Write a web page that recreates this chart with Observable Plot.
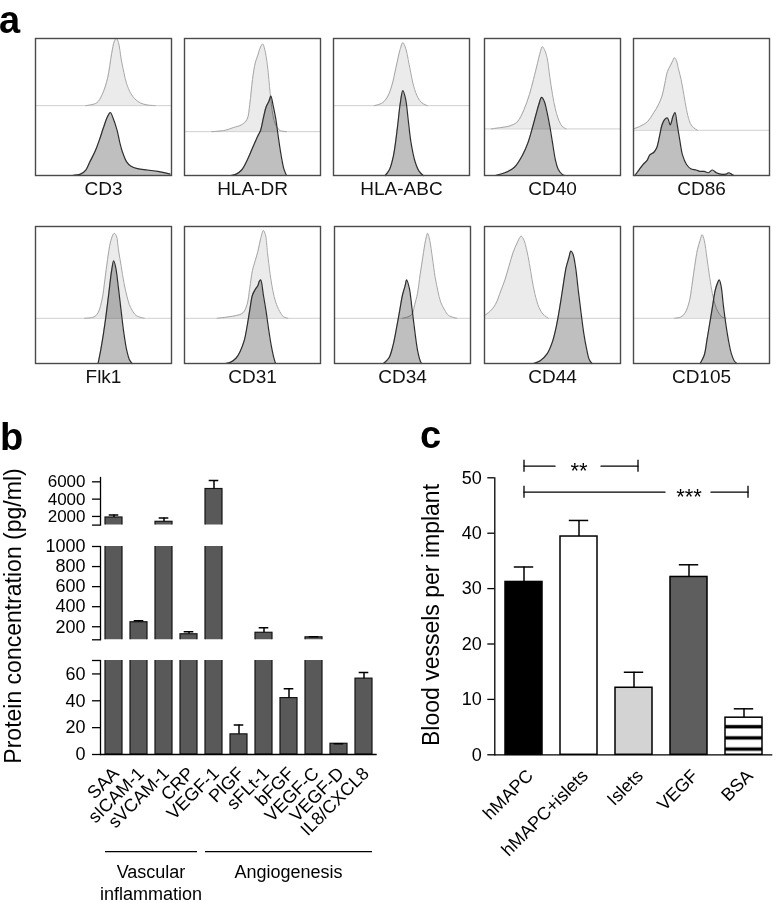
<!DOCTYPE html>
<html><head><meta charset="utf-8">
<script src="https://cdn.jsdelivr.net/npm/d3@7"></script>
<script src="https://cdn.jsdelivr.net/npm/@observablehq/plot@0.6"></script>
<style>
body{margin:0;background:#fff}
#fig{position:relative;width:776px;height:903px;overflow:hidden;background:#fff;font-family:"Liberation Sans",Arial,Helvetica,sans-serif;color:#000}
#fig svg{position:absolute}
.letter{position:absolute;font-weight:bold;font-size:38px;line-height:1}
.ytitle{position:absolute;font-size:23px;line-height:1;white-space:nowrap;transform:translate(-50%,-50%) rotate(-90deg)}
</style></head>
<body><div id="fig"></div>
<script>
// ---------- Panel a: flow cytometry histograms (x: % of box width, y: % of box height above own baseline)
const markers = ["CD3","HLA-DR","HLA-ABC","CD40","CD86","Flk1","CD31","CD34","CD44","CD105"];
const upperOffsets = [51, 32, 51, 34, 33, 33, 33, 33, 33, 33];

const cd3Upper = [[37,0],[45,2],[49,8],[53,20],[56,38],[58,47],[59.5,49],[61,46],[63,34],[65,24],[67,16],[70,9],[73,5],[77,2],[82,0.5],[88,0]];
const cd3Lower = [[27,0],[33,1],[37,4],[40,10],[44,18],[47,26],[50,35],[53,43],[55,46],[57,42],[60,33],[62,24],[64,17],[67,10],[70,7],[75,5],[82,4],[90,3],[99,1]];
const hladrUpper = [[20,0],[30,1],[36,3],[42,5],[46,9],[48,20],[50,38],[52,50],[54,56],[56,62],[57.5,64],[59,60],[61,48],[63,28],[65,12],[67,5],[70,1],[75,0]];
const hladrLower = [[34,0],[38,1],[42,4],[46,11],[50,20],[54,29],[56,33],[58,42],[60,50],[62,54],[63.5,58],[65,52],[67,42],[69,28],[71,15],[73,5],[75,0]];
const hlaabcUpper = [[30,0],[36,2],[40,7],[43,15],[46,28],[49,41],[51,46],[53,42],[56,28],[59,14],[62,6],[65,2],[69,0]];
const hlaabcLower = [[38,0],[41,4],[44,14],[47,35],[49,52],[51,62],[53,56],[55,40],[57,24],[60,10],[63,3],[66,0]];
const cd40Upper = [[5,0],[12,1],[18,2],[24,5],[29,14],[33,25],[36,36],[39,48],[41,56],[42.5,60],[44,58],[46,52],[48,38],[50,25],[52,15],[54,8],[57,2],[60,0]];
const cd40Lower = [[8,0],[15,2],[22,6],[28,15],[32,24],[35,34],[38,45],[40,52],[42,57],[44,54],[46,46],[48,36],[50,24],[52,12],[54,5],[57,1],[59,0]];
const cd86Upper = [[0,1],[5,3],[10,6],[15,13],[18,18],[21,25],[23,34],[25,43],[27,47],[29,51],[30,53],[31.5,51],[33,45],[35,37],[37,26],[39,15],[41,7],[43,3],[47,0]];
const cd86Lower = [[1,0],[4,4],[7,8],[10,11],[12,15],[15,17],[17,20],[19,28],[21,37],[23,41],[25,42],[27,37],[29,43],[30.5,46],[32,38],[34,26],[36,15],[39,8],[42,5],[46,4],[49,3],[52,3],[55,2],[58,4],[61,2],[64,1],[68,1],[70,2],[72,1],[74,0]];
const flk1Upper = [[36,0],[43,1],[46,4],[49,14],[51,28],[53,43],[55,55],[57,61],[58,62],[59.5,60],[61,50],[63,38],[65,26],[67,17],[69,10],[71,6],[74,2],[80,0]];
const flk1Lower = [[46,0],[48,10],[50,22],[52,36],[54,52],[56,68],[57.5,75],[59,70],[61,55],[63,38],[65,22],[67,10],[69,3],[71,0]];
const cd31Upper = [[24,0],[32,1],[38,2],[43,4],[46,10],[48,22],[50,35],[52,42],[54,49],[56,58],[58,64],[59.5,61],[61,48],[63,32],[65,20],[67,12],[70,5],[73,1],[76,0]];
const cd31Lower = [[30,0],[34,1],[38,4],[41,9],[44,17],[46,27],[48,39],[50,50],[52,54],[54,57],[55,60],[56,61],[58,50],[60,38],[62,24],[64,12],[66,3],[67,0]];
const cd34Upper = [[50,0],[54,1],[57,3],[59,10],[61,18],[63,32],[65,45],[67,57],[68.5,62],[70,57],[72,44],[74,30],[76,20],[78,12],[81,6],[84,2],[90,0]];
const cd34Lower = [[36,0],[40,4],[43,13],[46,28],[48,39],[50,50],[52,57],[53,61],[55,55],[57,40],[59,24],[61,10],[63,2],[64,0]];
const cd44Upper = [[0,2],[4,5],[8,10],[12,20],[15,28],[18,38],[21,48],[24,55],[26,59],[27,60],[29,57],[31,50],[33,40],[35,28],[37,18],[40,8],[43,3],[47,0]];
const cd44Lower = [[36,0],[41,2],[46,7],[50,16],[53,28],[56,45],[58,58],[60,70],[62,77],[63.5,82],[65,80],[67,70],[69,53],[71,37],[73,22],[75,11],[77,3],[79,0]];
const cd105Upper = [[30,0],[35,1],[38,4],[41,12],[43,24],[45,38],[47,50],[49,57],[50.5,61],[52,57],[54,44],[56,30],[58,18],[60,10],[62,5],[65,1],[68,0]];
const cd105Lower = [[49,0],[52,6],[54,17],[56,29],[58,41],[60,53],[61.5,58],[63,61],[64.5,56],[66,43],[68,28],[70,16],[72,7],[74,2],[76,0]];

const upperCurves = [cd3Upper, hladrUpper, hlaabcUpper, cd40Upper, cd86Upper, flk1Upper, cd31Upper, cd34Upper, cd44Upper, cd105Upper];
const lowerCurves = [cd3Lower, hladrLower, hlaabcLower, cd40Lower, cd86Lower, flk1Lower, cd31Lower, cd34Lower, cd44Lower, cd105Lower];

// ---------- Panel b: protein concentration (pg/ml)
const bNames = ["SAA","sICAM-1","sVCAM-1","CRP","VEGF-1","PlGF","sFLt-1","bFGF","VEGF-C","VEGF-D","IL8/CXCL8"];
const bMeans = [1880, 245, 1380, 125, 5170, 15, 140, 42, 95, 8, 56.5];
const bErrors = [280, 15, 430, 25, 990, 7, 50, 7, 5, 0, 4.5];
const bGroupNames = ["Vascular\ninflammation", "Angiogenesis"];
const bGroupFirst = ["SAA", "VEGF-1"];
const bGroupLast = ["CRP", "IL8/CXCL8"];
const bTopTicks = [2000, 4000, 6000];
const bMidTicks = [200, 400, 600, 800, 1000];
const bLowTicks = [0, 20, 40, 60];
const bBreaks = [70, 1000, 6500];

// ---------- Panel c: blood vessels per implant
const cNames = ["hMAPC","hMAPC+islets","Islets","VEGF","BSA"];
const cMeans = [31.2, 39.4, 12.1, 32.1, 6.7];
const cErrors = [2.7, 2.9, 2.8, 2.2, 1.6];
const cTicks = [0, 10, 20, 30, 40, 50];
const sigFrom = ["hMAPC", "hMAPC"];
const sigMid = ["hMAPC+islets", "VEGF"];
const sigTo = ["Islets", "BSA"];
const sigLabels = ["**", "***"];
const sigLevels = [52.1, 47.4];

// ================= drawing =================
const FONT = '"Liberation Sans", Arial, Helvetica, sans-serif';
const fig = document.getElementById("fig");
function place(el, left, top) { el.style.left = left + "px"; el.style.top = top + "px"; fig.appendChild(el); return el; }

// Panel a
const boxLefts = [[35, 184, 333, 484, 633], [35, 184, 334, 484, 633]];
const boxTops = [38, 226];
markers.forEach((name, i) => {
  const row = Math.floor(i / 5), col = i % 5;
  const base = upperOffsets[i];
  const up = upperCurves[i], lo = lowerCurves[i];
  const svg = Plot.plot({
    width: 138, height: 168, marginLeft: 1, marginRight: 1, marginTop: 1, marginBottom: 30,
    x: {domain: [0, 100], axis: null},
    y: {domain: [0, 100], axis: null},
    style: {background: "transparent", overflow: "visible", fontFamily: FONT},
    marks: [
      Plot.areaY(up, {x: d => d[0], y1: base, y2: d => base + d[1], fill: "#ebebeb", curve: "catmull-rom"}),
      Plot.ruleY([base], {stroke: "#cfcfcf", strokeWidth: 1}),
      Plot.lineY(up, {x: d => d[0], y: d => base + d[1], stroke: "#a6a6a6", strokeWidth: 1, curve: "catmull-rom"}),
      Plot.areaY(lo, {x: d => d[0], y1: 0, y2: d => d[1], fill: "#bfbfbf", mixBlendMode: "multiply", curve: "catmull-rom"}),
      Plot.lineY(lo, {x: d => d[0], y: d => d[1], stroke: "#2e2e2e", strokeWidth: 1.2, curve: "catmull-rom"}),
      Plot.frame({stroke: "#4a4a4a", strokeWidth: 1.4}),
      Plot.text([name], {frameAnchor: "bottom", dy: 19, fontSize: 19, fill: "#111"})
    ]
  });
  place(svg, boxLefts[row][col] - 1, boxTops[row] - 1);
});

// Panel b
const bData = bNames.map((name, i) => ({name, mean: bMeans[i], err: bErrors[i]}));
function bSegment(domain, ticks, mt, frameH, mb, bottom, tickFont) {
  const tickList = bottom ? ticks.concat([domain[1]]) : [domain[0]].concat(ticks);
  return Plot.plot({
    width: 380, height: mt + frameH + mb, marginLeft: 100, marginRight: 3.3, marginTop: mt, marginBottom: mb,
    x: {domain: bNames, paddingInner: 0.31, paddingOuter: 0.107, axis: null},
    y: {domain, axis: null, label: null},
    style: {background: "transparent", overflow: "visible", fontFamily: FONT},
    marks: [
      Plot.barY(bData, {x: "name", y: "mean", fill: "#595959", stroke: "#151515", strokeWidth: 1.2, clip: true}),
      Plot.ruleX(bData, {x: "name", y1: "mean", y2: d => d.mean + d.err, stroke: "#000", strokeWidth: 1.5, clip: true}),
      Plot.tickY(bData, {x: "name", y: d => d.mean + d.err, insetLeft: 3.7, insetRight: 3.7, stroke: "#000", strokeWidth: 1.5, clip: true}),
      Plot.axisY({ticks: tickList, tickFormat: d => ticks.includes(d) ? String(d) : "", tickSize: 8, tickPadding: 7, fontSize: tickFont, label: null, strokeWidth: 1.3}),
      Plot.frame({anchor: "left", stroke: "#000", strokeWidth: 1.3}),
      bottom ? Plot.ruleY([0], {stroke: "#000", strokeWidth: 1.3}) : null,
      bottom ? Plot.axisX({tickRotate: -45, tickSize: 0, tickPadding: 16, dx: 2, fontSize: 18, label: null}) : null
    ]
  });
}
const bTop = place(bSegment([bBreaks[1], bBreaks[2]], bTopTicks, 10, 47.6, 4, false, 17), 0, 466.7);
const bMid = place(bSegment([bBreaks[0], bBreaks[1]], bMidTicks, 10, 93.3, 4, false, 18), 0, 535.7);
const bLow = place(bSegment([0, bBreaks[0]], bLowTicks, 10, 94, 149, true, 18), 0, 650);

// group annotation under panel b, positioned through the band scale
{
  const xs = bLow.scale("x");
  const g = d3.select(bLow).append("g").attr("font-size", 18).attr("text-anchor", "middle").attr("font-family", FONT);
  bGroupNames.forEach((label, i) => {
    const x1 = xs.apply(bGroupFirst[i]);
    const x2 = xs.apply(bGroupLast[i]) + xs.bandwidth;
    g.append("line").attr("x1", x1).attr("x2", x2).attr("y1", 201.7).attr("y2", 201.7).attr("stroke", "#000").attr("stroke-width", 1.2);
    const t = g.append("text").attr("y", 228);
    label.split("\n").forEach((s, j) => t.append("tspan").attr("x", (x1 + x2) / 2).attr("dy", j ? "1.2em" : 0).text(s));
  });
}

// Panel c
const cData = cNames.map((name, i) => ({name, mean: cMeans[i], err: cErrors[i]}));
const sigData = sigLabels.map((label, i) => ({label, from: sigFrom[i], mid: sigMid[i], to: sigTo[i], level: sigLevels[i]}));
const cFills = ["#000000", "#ffffff", "#d3d3d3", "#5e5e5e", "url(#bsa-stripes)"];
const cPlot = Plot.plot({
  width: 376, height: 483, marginLeft: 94.3, marginRight: 3.7, marginTop: 57.3, marginBottom: 148.7,
  x: {domain: cNames, paddingInner: 0.323, paddingOuter: 0.16, axis: null},
  y: {domain: [0, 50], axis: null, label: null},
  color: {domain: cNames, range: cFills},
  style: {background: "transparent", overflow: "visible", fontFamily: FONT},
  marks: [
    Plot.barY(cData, {x: "name", y: "mean", fill: "name", stroke: "#000", strokeWidth: 1.5}),
    Plot.ruleX(cData, {x: "name", y1: "mean", y2: d => d.mean + d.err, stroke: "#000", strokeWidth: 1.5}),
    Plot.tickY(cData, {x: "name", y: d => d.mean + d.err, insetLeft: 8.8, insetRight: 8.8, stroke: "#000", strokeWidth: 1.5}),
    Plot.axisY({ticks: cTicks, tickSize: 7, tickPadding: 6, fontSize: 18, label: null, strokeWidth: 1.3}),
    Plot.frame({anchor: "left", stroke: "#000", strokeWidth: 1.3}),
    Plot.ruleY([0], {stroke: "#000", strokeWidth: 1.3}),
    Plot.axisX({tickRotate: -45, tickSize: 0, tickPadding: 18, dx: 6, fontSize: 18, label: null}),
    // significance brackets
    Plot.arrow(sigData, {x1: "from", x2: "mid", y1: "level", y2: "level", headLength: 0, insetEnd: 24, stroke: "#000", strokeWidth: 1.3}),
    Plot.arrow(sigData, {x1: "mid", x2: "to", y1: "level", y2: "level", headLength: 0, insetStart: 22, insetEnd: -4, stroke: "#000", strokeWidth: 1.3}),
    Plot.ruleX(sigData, {x: "from", y1: "level", y2: "level", insetTop: -6, insetBottom: -6, stroke: "#000", strokeWidth: 1.3}),
    Plot.ruleX(sigData, {x: "to", y1: "level", y2: "level", insetTop: -6, insetBottom: -6, dx: 4, stroke: "#000", strokeWidth: 1.3}),
    Plot.text(sigData, {x: "mid", y: "level", text: "label", fontSize: 22, dy: 5})
  ]
});
d3.select(cPlot).insert("defs", ":first-child").html(
  '<pattern id="bsa-stripes" patternUnits="userSpaceOnUse" width="10" height="11.2">' +
  '<rect width="10" height="11.2" fill="#fff"/><rect y="2.6" width="10" height="3.4" fill="#000"/></pattern>');
place(cPlot, 400, 420);

// Panel letters and axis titles
function addDiv(cls, text, left, top) { const d = document.createElement("div"); d.className = cls; d.textContent = text; return place(d, left, top); }
addDiv("letter", "a", -1, 1);
addDiv("letter", "b", 0, 418);
addDiv("letter", "c", 420, 416);
addDiv("ytitle", "Protein concentration (pg/ml)", 13, 616);
addDiv("ytitle", "Blood vessels per implant", 431, 615);
</script></body></html>
